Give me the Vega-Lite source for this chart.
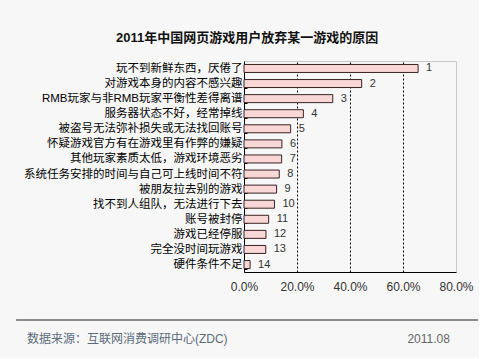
{
  "$schema": "https://vega.github.io/schema/vega-lite/v6.json",
  "background": "#f7f7f7",
  "padding": {"left": 15, "top": 31, "right": 0, "bottom": 0},
  "config": {
    "font": "Liberation Sans, Noto Sans CJK SC",
    "view": {"stroke": "#c8c8c8"}
  },
  "title": {
    "text": "2011年中国网页游戏用户放弃某一游戏的原因",
    "fontSize": 13,
    "fontWeight": "bold",
    "color": "#111",
    "anchor": "middle",
    "frame": "bounds",
    "offset": 10
  },
  "spacing": 26,
  "vconcat": [
    {
      "width": 212,
      "height": 211,
      "data": {
        "values": [
          {"reason": "玩不到新鲜东西，厌倦了", "rank": 1, "value": 0.657},
          {"reason": "对游戏本身的内容不感兴趣", "rank": 2, "value": 0.444},
          {"reason": "RMB玩家与非RMB玩家平衡性差得离谱", "rank": 3, "value": 0.335},
          {"reason": "服务器状态不好，经常掉线", "rank": 4, "value": 0.224},
          {"reason": "被盗号无法弥补损失或无法找回账号", "rank": 5, "value": 0.176},
          {"reason": "怀疑游戏官方有在游戏里有作弊的嫌疑", "rank": 6, "value": 0.143},
          {"reason": "其他玩家素质太低，游戏环境恶劣", "rank": 7, "value": 0.142},
          {"reason": "系统任务安排的时间与自己可上线时间不符", "rank": 8, "value": 0.133},
          {"reason": "被朋友拉去别的游戏", "rank": 9, "value": 0.123},
          {"reason": "找不到人组队，无法进行下去", "rank": 10, "value": 0.115},
          {"reason": "账号被封停", "rank": 11, "value": 0.093},
          {"reason": "游戏已经停服", "rank": 12, "value": 0.083},
          {"reason": "完全没时间玩游戏", "rank": 13, "value": 0.082},
          {"reason": "硬件条件不足", "rank": 14, "value": 0.023}
        ]
      },
      "encoding": {
        "y": {
          "field": "reason",
          "type": "nominal",
          "sort": {"field": "rank", "order": "ascending"},
          "scale": {"paddingInner": 0.47, "paddingOuter": 0.23},
          "axis": {
            "title": null,
            "labelFontSize": 11.5,
            "labelColor": "#000",
            "labelPadding": 5,
            "labelLimit": 300,
            "domainColor": "#000",
            "tickColor": "#000",
            "tickSize": -3,
            "tickBand": "extent"
          }
        },
        "x": {
          "field": "value",
          "type": "quantitative",
          "scale": {"domain": [0, 0.8], "nice": false},
          "axis": {
            "title": null,
            "values": [0, 0.2, 0.4, 0.6, 0.8],
            "format": ".1%",
            "labelFontSize": 12,
            "labelColor": "#333",
            "labelPadding": 9,
            "labelFlush": false,
            "labelOverlap": false,
            "ticks": false,
            "domainColor": "#000",
            "grid": true,
            "gridColor": "#000",
            "gridDash": [2, 2],
            "gridOpacity": {"condition": {"test": "datum.value == 0 || datum.value >= 0.79", "value": 0}, "value": 1}
          }
        }
      },
      "layer": [
        {
          "mark": {"type": "bar", "fill": "#f9d7d7", "stroke": "#3a2222", "strokeWidth": 1}
        },
        {
          "mark": {"type": "text", "align": "left", "dx": 8, "fontSize": 11, "color": "#333"},
          "encoding": {"text": {"field": "rank", "type": "quantitative"}}
        }
      ]
    },
    {
      "width": 212,
      "height": 38,
      "view": {"stroke": null},
      "layer": [
        {
          "data": {"values": [{"from": -0.86, "to": 0.883}]},
          "mark": {"type": "rule", "color": "#666", "strokeWidth": 1.5},
          "encoding": {
            "x": {"field": "from", "type": "quantitative", "scale": {"domain": [0, 0.8], "nice": false}, "axis": null},
            "x2": {"field": "to"},
            "y": {"datum": 1, "type": "quantitative", "scale": {"domain": [0, 1]}, "axis": null}
          }
        },
        {
          "data": {"values": [{"note": "数据来源：互联网消费调研中心(ZDC)", "at": -0.819}]},
          "mark": {"type": "text", "align": "left", "fontSize": 12, "color": "#5b6b7b"},
          "encoding": {
            "x": {"field": "at", "type": "quantitative", "scale": {"domain": [0, 0.8], "nice": false}, "axis": null},
            "text": {"field": "note"}
          }
        },
        {
          "data": {"values": [{"note": "2011.08", "at": 0.777}]},
          "mark": {"type": "text", "align": "right", "fontSize": 12, "color": "#666"},
          "encoding": {
            "x": {"field": "at", "type": "quantitative", "scale": {"domain": [0, 0.8], "nice": false}, "axis": null},
            "text": {"field": "note"}
          }
        }
      ]
    }
  ]
}
